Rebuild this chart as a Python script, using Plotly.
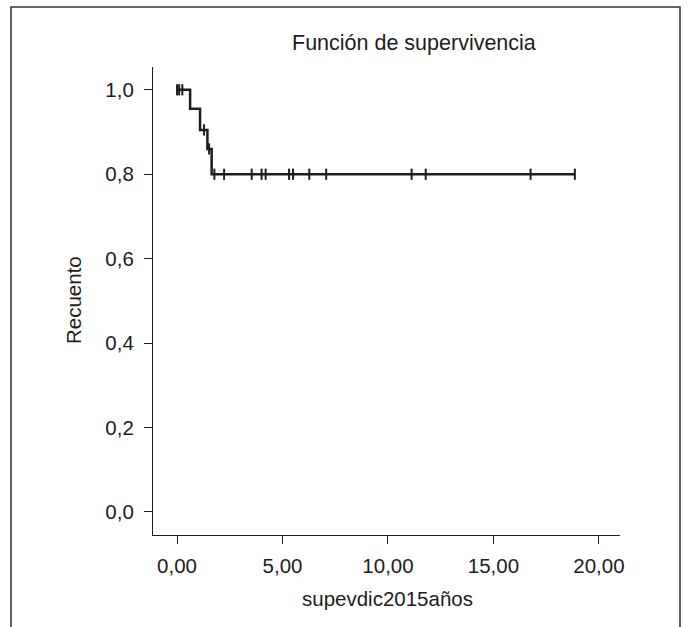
import plotly.graph_objects as go

# Kaplan-Meier step curve
event_times = [0.0, 0.62, 1.09, 1.44, 1.64]
survival = [1.0, 0.955, 0.905, 0.86, 0.80]
end_time = 18.86

# Censored observations
censor_times = [0.0, 0.10, 0.25, 1.28, 1.52, 1.77, 2.23, 3.54, 4.01, 4.20, 5.31, 5.50,
                6.27, 7.07, 11.12, 11.79, 16.76, 18.86]
censor_surv = [1.0, 1.0, 1.0, 0.905, 0.86, 0.80, 0.80, 0.80, 0.80, 0.80, 0.80, 0.80,
               0.80, 0.80, 0.80, 0.80, 0.80, 0.80]

x_ticks = [0, 5, 10, 15, 20]
y_ticks = [0.0, 0.2, 0.4, 0.6, 0.8, 1.0]

title_text = "Función de supervivencia"
x_title = "supevdic2015años"
y_title = "Recuento"

INK = "#1f1c1d"
FONT = "Liberation Sans, Arial, Helvetica, sans-serif"

fig = go.Figure()
fig.add_trace(go.Scatter(
    x=event_times + [end_time],
    y=survival + [survival[-1]],
    mode="lines", line=dict(color=INK, width=2.5, shape="hv"),
    hoverinfo="skip", showlegend=False,
))
fig.add_trace(go.Scatter(
    x=censor_times, y=censor_surv, mode="markers",
    marker=dict(symbol="line-ns", size=8, line=dict(color=INK, width=2)),
    hoverinfo="skip", showlegend=False,
))

L, R, T, B = 153, 68, 67, 92
W, H = 688, 627
pw, ph = W - L - R, H - T - B

def px(x):
    return (x - L) / pw

def py(y):
    return (H - B - y) / ph

fig.update_layout(
    width=W, height=H,
    margin=dict(l=L, r=R, t=T, b=B, pad=0),
    paper_bgcolor="white", plot_bgcolor="white",
    separators=",.",
    font=dict(family=FONT, size=20.5, color=INK),
    xaxis=dict(range=[-1.14, 21.0], tickvals=x_ticks, tickformat=".2f",
               showline=True, linecolor=INK, linewidth=1.2, ticks="outside",
               ticklen=8, tickwidth=1.2, tickcolor=INK, showgrid=False, zeroline=False,
               ticklabelstandoff=4),
    yaxis=dict(range=[-0.0545, 1.054], tickvals=y_ticks, tickformat=".1f",
               showline=True, linecolor=INK, linewidth=1.2, ticks="outside",
               ticklen=8, tickwidth=1.2, tickcolor=INK, showgrid=False, zeroline=False,
               ticklabelstandoff=6),
    annotations=[
        dict(text=title_text, x=px(414), y=py(43), xref="paper", yref="paper",
             showarrow=False, font=dict(size=21.5, color=INK), xanchor="center", yanchor="middle"),
        dict(text=x_title, x=px(387), y=py(598), xref="paper", yref="paper",
             showarrow=False, font=dict(size=20.5, color=INK), xanchor="center", yanchor="middle"),
        dict(text=y_title, x=px(73), y=py(300), xref="paper", yref="paper", textangle=-90,
             showarrow=False, font=dict(size=20.5, color=INK), xanchor="center", yanchor="middle"),
    ],
    shapes=[
        dict(type="rect", xref="paper", yref="paper",
             x0=px(11), x1=px(680), y0=py(660), y1=py(7),
             line=dict(color="#333333", width=1.5), fillcolor="rgba(0,0,0,0)", layer="below"),
    ],
)

fig.write_html("out.html")
